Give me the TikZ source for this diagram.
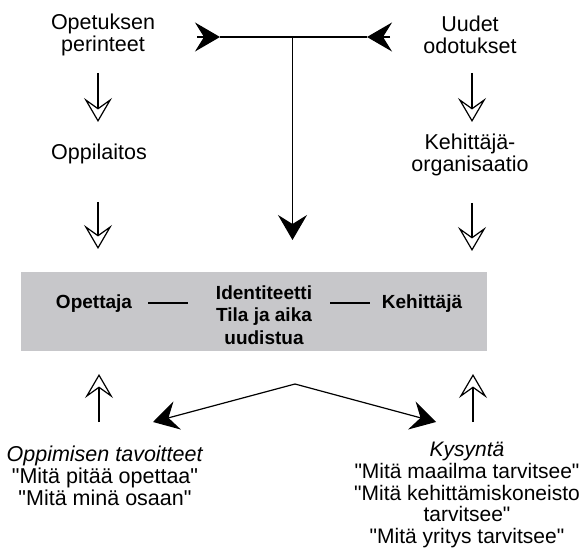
\documentclass[tikz,border=0pt]{standalone}
\usepackage{fontspec}
\setmainfont{Liberation Sans}
\newfontfamily\plainq{Liberation Sans}
\usetikzlibrary{arrows.meta}
\definecolor{boxgray}{RGB}{199,199,202}
\newcommand{\qq}{{\plainq\upshape\symbol{34}}}
\begin{document}
\begin{tikzpicture}[x=1pt,y=-1pt,
  txt/.style={inner sep=0pt, align=center, font=\fontsize{21.5}{22}\selectfont},
  txtr/.style={inner sep=0pt, align=center, font=\fontsize{21}{21.6}\selectfont},
  bld/.style={inner sep=0pt, align=center, font=\fontsize{19}{22.5}\selectfont\bfseries},
  conn/.style={line width=1.2pt},
  hollowtip/.style={conn, -{Stealth[open, length=24pt, width=28pt, inset=10pt, line width=1.2pt]}},
  filledtip/.style={conn, -{Stealth[length=25pt, width=29pt, inset=9pt]}},
  thin/.style={line width=1.2pt}]
\useasboundingbox (0,0) rectangle (583,553);
% gray band
\node[fill=boxgray, minimum width=466pt, minimum height=79pt, inner sep=0pt] (band) at (254,311.5) {};
% texts
\node[txt] (perinteet) at (103,35) {Opetuksen\\perinteet};
\node[txt] (odotukset) at (470,35) {Uudet\\odotukset};
\node[txt] (oppilaitos) at (99,154) {Oppilaitos};
\node[txt] (kehorg) at (470,155) {Kehittäjä-\\organisaatio};
\node[bld] (opettaja) at (94,304) {Opettaja};
\node[bld] (ident) at (264,315) {Identiteetti\\Tila ja aika\\uudistua};
\node[bld] (kehittaja) at (422,304) {Kehittäjä};
\node[txt] (tavoitteet) at (105,476) {\textit{Oppimisen tavoitteet}\\\qq Mitä pitää opettaa\qq\\\qq Mitä minä osaan\qq};
\node[txtr] (kysynta) at (467,495) {\textit{Kysyntä}\\\qq Mitä maailma tarvitsee\qq\\\qq Mitä kehittämiskoneisto\\tarvitsee\qq\\\qq Mitä yritys tarvitsee\qq};
% coordinates
\coordinate (tl) at (197,37);
\coordinate (jl) at (220,37);
\coordinate (jm) at (292.5,37);
\coordinate (jr) at (367,37);
\coordinate (tr) at (390,37);
\coordinate (ctip) at (292.5,240);
\coordinate (l1a) at (98,73);  \coordinate (l1b) at (98,122);
\coordinate (l2a) at (98,202); \coordinate (l2b) at (98,249);
\coordinate (r1a) at (472,73); \coordinate (r1b) at (472,122);
\coordinate (r2a) at (472,203);\coordinate (r2b) at (472,251);
\coordinate (ula) at (99,422); \coordinate (ulb) at (99,374);
\coordinate (ura) at (473,422);\coordinate (urb) at (473,374);
\coordinate (apex) at (295,384);
\coordinate (btl) at (153,422);
\coordinate (btr) at (436,422);
\coordinate (d1a) at (148,303); \coordinate (d1b) at (188,303);
\coordinate (d2a) at (330,303); \coordinate (d2b) at (370,303);
% top connector
\draw[filledtip] (tl) -- (jl);
\draw[filledtip] (tr) -- (jr);
\draw[conn] (jl) -- (jr);
\draw[filledtip] (jm) -- (ctip);
% hollow arrows
\draw[hollowtip] (l1a) -- (l1b);
\draw[hollowtip] (l2a) -- (l2b);
\draw[hollowtip] (r1a) -- (r1b);
\draw[hollowtip] (r2a) -- (r2b);
\draw[hollowtip] (ula) -- (ulb);
\draw[hollowtip] (ura) -- (urb);
% bottom V
\draw[filledtip] (apex) -- (btl);
\draw[filledtip] (apex) -- (btr);
% dashes in band
\draw[thin] (d1a) -- (d1b);
\draw[thin] (d2a) -- (d2b);
\end{tikzpicture}
\end{document}
